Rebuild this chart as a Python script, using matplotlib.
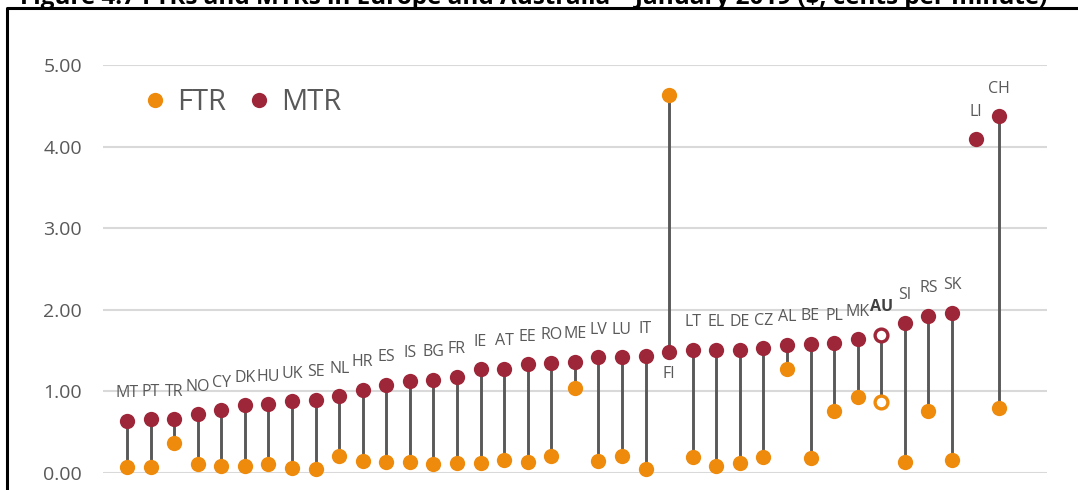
"""
Lollipop chart: fixed (FTR) and mobile (MTR) termination rates,
Europe and Australia, January 2019. Writes out.png.
"""
import numpy as np
import matplotlib
matplotlib.use("Agg")
import matplotlib.pyplot as plt
from matplotlib.lines import Line2D

plt.rcParams["font.family"] = ["Open Sans", "DejaVu Sans"]

countries = ["MT", "PT", "TR", "NO", "CY", "DK", "HU", "UK", "SE", "NL",
             "HR", "ES", "IS", "BG", "FR", "IE", "AT", "EE", "RO", "ME",
             "LV", "LU", "IT", "FI", "LT", "EL", "DE", "CZ", "AL", "BE",
             "PL", "MK", "AU", "SI", "RS", "SK", "LI", "CH"]
mtr = [0.64, 0.66, 0.66, 0.72, 0.77, 0.83, 0.84, 0.88, 0.90, 0.94,
       1.02, 1.08, 1.13, 1.14, 1.18, 1.27, 1.28, 1.33, 1.35, 1.36,
       1.42, 1.42, 1.43, 1.48, 1.51, 1.51, 1.51, 1.53, 1.57, 1.58,
       1.59, 1.64, 1.69, 1.84, 1.93, 1.96, 4.09, 4.37]
ftr = [0.07, 0.07, 0.37, 0.11, 0.09, 0.09, 0.11, 0.06, 0.05, 0.21,
       0.15, 0.13, 0.13, 0.11, 0.12, 0.12, 0.16, 0.13, 0.21, 1.04,
       0.15, 0.21, 0.05, 4.63, 0.20, 0.09, 0.12, 0.20, 1.27, 0.18,
       0.76, 0.93, 0.87, 0.13, 0.76, 0.16, np.nan, 0.80]
highlight = "AU"          # drawn as open markers, bold label
label_below = ["FI"]      # label sits under the MTR dot

ORANGE = "#ee8a0c"
RED = "#9e2639"
STEM = "#595959"
GREY_TXT = "#595959"
GRID = "#d9d9d9"

W, H = 1078, 490
fig = plt.figure(figsize=(W / 100, H / 100), dpi=100)
ax = fig.add_axes([103 / W, (H - 473) / H, (1047 - 103) / W, (473 - 65) / H])

x = np.arange(len(countries))
mtr = np.array(mtr)
ftr = np.array(ftr)
hi = np.array([c == highlight for c in countries])

# stems
ok = ~np.isnan(ftr)
ax.vlines(x[ok], ftr[ok], mtr[ok], color=STEM, lw=2.1, zorder=2, clip_on=False)

# dots
ax.plot(x[~hi], ftr[~hi], "o", ms=11, color=ORANGE, mec="none", zorder=3, clip_on=False)
ax.plot(x[~hi], mtr[~hi], "o", ms=11, color=RED, mec="none", zorder=3, clip_on=False)
ax.plot(x[hi], ftr[hi], "o", ms=9.2, mfc="white", mec=ORANGE, mew=2.4, zorder=3, clip_on=False)
ax.plot(x[hi], mtr[hi], "o", ms=9.2, mfc="white", mec=RED, mew=2.4, zorder=3, clip_on=False)

# country labels
for xi, yi, name in zip(x, mtr, countries):
    below = name in label_below
    ax.annotate(name, (xi, yi), textcoords="offset points",
                xytext=(0, -10 if below else 17), ha="center",
                va="top" if below else "baseline",
                fontsize=11.5, color="#404040" if name == highlight else GREY_TXT,
                fontweight="bold" if name == highlight else "normal",
                annotation_clip=False)

ax.set_xlim((103 - 127) / 23.57, (1047 - 127) / 23.57)
ax.set_ylim(0, 5)
ax.set_yticks(np.arange(0, 6, 1))
ax.yaxis.set_major_formatter(matplotlib.ticker.FormatStrFormatter("%.2f"))
ax.tick_params(axis="y", length=0, pad=15, labelsize=14, labelcolor=GREY_TXT)
ax.set_xticks([])
for s in ax.spines.values():
    s.set_visible(False)
for v in range(6):
    ax.axhline(v, color=GRID, lw=1.5, zorder=0)

handles = [Line2D([], [], ls="none", marker="o", ms=11, color=ORANGE, mec="none"),
           Line2D([], [], ls="none", marker="o", ms=11, color=RED, mec="none")]
leg = ax.legend(handles, ["FTR", "MTR"], ncol=2, frameon=False, fontsize=21,
                loc="center left", bbox_to_anchor=(146 / W, (H - 103) / H),
                bbox_transform=fig.transFigure, borderpad=0, borderaxespad=0,
                handlelength=0.6, handletextpad=0.45, columnspacing=0.85)
for t in leg.get_texts():
    t.set_color(GREY_TXT)

# frame of the figure box (cropped at right and bottom)
fig.add_artist(Line2D([7 / W, 7 / W, 1.01], [-0.01, (H - 8) / H, (H - 8) / H],
                      transform=fig.transFigure, color="black", lw=2.2))

# title, mostly cut off above the crop
fig.text(20 / W, (H - 4) / H,
         "Figure 4.7 FTRs and MTRs in Europe and Australia \u2013 January 2019 ($, cents per minute)",
         fontsize=17.5, fontweight="bold", color="black", va="baseline", ha="left")

fig.savefig("out.png", dpi=100)
